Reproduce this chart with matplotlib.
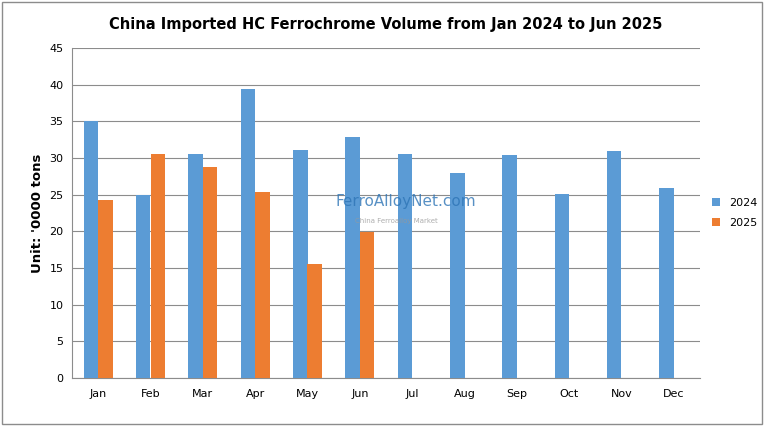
import numpy as np
import matplotlib.pyplot as plt
from matplotlib.patches import Rectangle

months = ['Jan', 'Feb', 'Mar', 'Apr', 'May', 'Jun', 'Jul', 'Aug', 'Sep', 'Oct', 'Nov', 'Dec']
vol_2024 = [35.1, 24.9, 30.6, 39.4, 31.1, 32.9, 30.6, 28.0, 30.4, 25.1, 31.0, 25.9]
vol_2025 = [24.3, 30.5, 28.8, 25.4, 15.5, 19.9]

fig = plt.figure(figsize=(7.64, 4.26), dpi=100)
fig.patches.append(Rectangle((0.003, 0.005), 0.994, 0.99, transform=fig.transFigure,
                             fill=False, edgecolor='#8c8c8c', lw=1))
ax = fig.add_axes([72/764, 48/426, 628/764, 330/426])

x = np.arange(len(months))
w = 0.28
ax.bar(x - w/2, vol_2024, w, color='#5b9bd5', label='2024', zorder=3)
ax.bar(x[:len(vol_2025)] + w/2, vol_2025, w, color='#ed7d31', label='2025', zorder=3)

ax.set_xlim(-0.5, 11.5)
ax.set_ylim(0, 45)
ax.set_yticks(range(0, 46, 5))
ax.set_xticks(x)
ax.set_xticklabels(months)
ax.tick_params(length=0, labelsize=8, pad=8)
ax.tick_params(axis='y', pad=6)
ax.grid(axis='y', color='#8c8c8c', lw=0.8, zorder=0)
for s in ['top', 'right']:
    ax.spines[s].set_visible(False)
ax.spines['left'].set_color('#8c8c8c')
ax.spines['bottom'].set_color('#8c8c8c')
ax.set_ylabel("Unit: '0000 tons", fontsize=9.5, fontweight='bold')
ax.set_title('China Imported HC Ferrochrome Volume from Jan 2024 to Jun 2025',
             fontsize=10.5, fontweight='bold', pad=14)

ax.text(0.42, 0.52, 'FerroAlloyNet.com', transform=ax.transAxes, color='#2e75b6',
        fontsize=11, alpha=0.8, zorder=4)
ax.text(0.45, 0.47, 'China Ferroalloy Market', transform=ax.transAxes, color='#999999',
        fontsize=5, alpha=0.8, zorder=4)

fig.legend(loc='center left', bbox_to_anchor=(702/764, 0.5), frameon=False,
           fontsize=8, handlelength=0.7, handleheight=0.7, labelspacing=0.9)
fig.savefig('out.png', dpi=100)
